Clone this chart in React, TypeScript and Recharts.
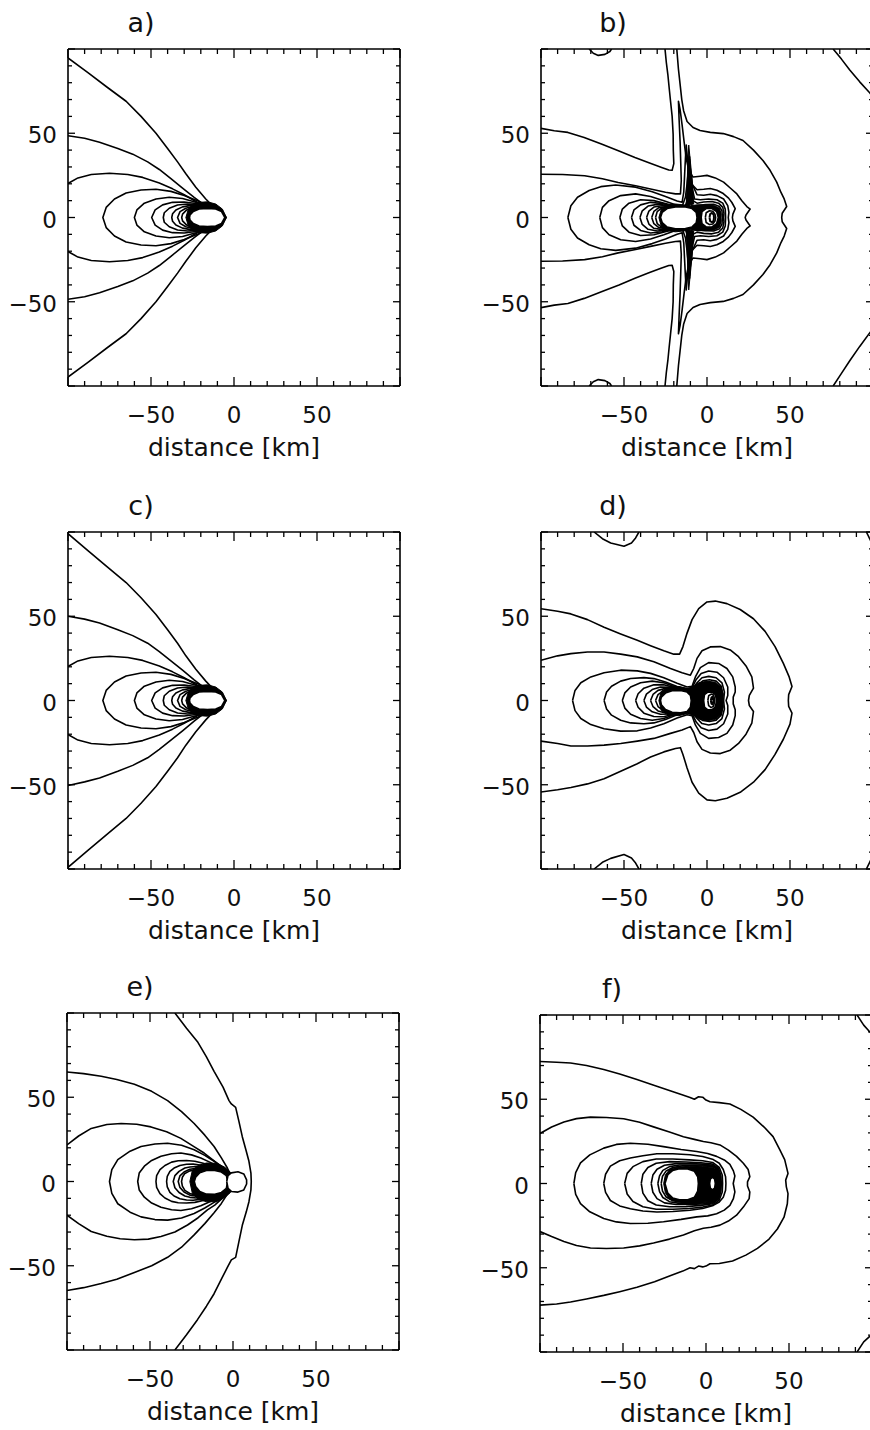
import React from 'react';
import { ScatterChart, Scatter, XAxis, YAxis } from 'recharts';

const FONT = "'DejaVu Sans', 'Liberation Sans', sans-serif";
const TICK_VALUES = [-100, -90, -80, -70, -60, -50, -40, -30, -20, -10, 0, 10, 20, 30, 40, 50, 60, 70, 80, 90, 100];
const LABELED_TICKS = [-50, 0, 50];
const DOMAIN: [number, number] = [-100, 100];
const X_LABEL = 'distance [km]';
const AXIS_ANCHOR = [-100, -100, 100, 100];

// ---------- panel a (and c) ----------
const A_1 = [-100,94.7, -88,86, -76,77, -65,69, -56,60, -47,50, -40,41, -34,33, -29,26, -23,18, -17,11, -12,6, -8,2.5, -5,0, -8,-2.5, -12,-6, -17,-11, -23,-18, -29,-26, -34,-33, -40,-41, -47,-50, -56,-60, -65,-69, -76,-77, -88,-86, -100,-94.7];
const A_2 = [-100,48.5, -90,47, -81,44.6, -70,41, -61,37.6, -52,33, -45,28.5, -38,23, -31,17.5, -24,12, -18,7.5, -12,4, -8,1.8, -5,0, -8,-1.8, -12,-4, -18,-7.5, -24,-12, -31,-17.5, -38,-23, -45,-28.5, -52,-33, -61,-37.6, -70,-41, -81,-44.6, -90,-47, -100,-48.5];
const A_3 = [-100,20.2, -94,23.5, -86,25.5, -75,26.3, -64,25.5, -55,23.8, -45,20.5, -37,17, -30,13.5, -23,9.5, -16,6, -10,3, -5,0, -10,-3, -16,-6, -23,-9.5, -30,-13.5, -37,-17, -45,-20.5, -55,-23.8, -64,-25.5, -75,-26.3, -86,-25.5, -94,-23.5, -100,-20.2];
const A_4 = [-5,0, -10,3.3, -16,7, -22,10, -30,13, -38,15.5, -47,16.8, -56,16.3, -65,14.5, -72,11, -77,6, -79,0, -77,-6, -72,-11, -65,-14.5, -56,-16.3, -47,-16.8, -38,-15.5, -30,-13, -22,-10, -16,-7, -10,-3.3, -5,0];
const A_5 = [-5,0, -10,3.5, -16,6.5, -23,9, -31,11.3, -39,12, -47,11, -54,8.5, -58.5,4.5, -60,0, -58.5,-4.5, -54,-8.5, -47,-11, -39,-12, -31,-11.3, -23,-9, -16,-6.5, -10,-3.5, -5,0];
const A_6 = [-5,0, -10,3.6, -16,6.3, -23,8.3, -30,9.2, -37,9, -43,7.5, -47.5,4.5, -49.6,0, -47.5,-4.5, -43,-7.5, -37,-9, -30,-9.2, -23,-8.3, -16,-6.3, -10,-3.6, -5,0];
const A_7 = [-5,0, -10,3.7, -16,6.2, -22,7.6, -28,8, -34,7.4, -39,5.5, -42,2.8, -42.6,0, -42,-2.8, -39,-5.5, -34,-7.4, -28,-8, -22,-7.6, -16,-6.2, -10,-3.7, -5,0];
const A_8 = [-5,0, -10,3.8, -15,6, -20,7, -26,7.2, -31,6.3, -35,4.5, -37,2.2, -37.5,0, -37,-2.2, -35,-4.5, -31,-6.3, -26,-7.2, -20,-7, -15,-6, -10,-3.8, -5,0];
const A_9 = [-5,0, -10,3.9, -15,5.9, -20,6.6, -25,6.5, -29,5.5, -32.5,3.5, -34,0, -32.5,-3.5, -29,-5.5, -25,-6.5, -20,-6.6, -15,-5.9, -10,-3.9, -5,0];
const A_10 = [-5,0, -10,4, -15,5.8, -20,6.3, -25,6, -28.5,4.5, -31,2, -31.5,0, -31,-2, -28.5,-4.5, -25,-6, -20,-6.3, -15,-5.8, -10,-4, -5,0];
const A_DARK = [-4.5,0, -7,5, -11,8, -16,9.3, -21,9, -25,7.5, -27.5,5, -29,0, -27.5,-5, -25,-7.5, -21,-9, -16,-9.3, -11,-8, -7,-5, -4.5,0];
const A_BLOB = [-5.5,0, -7.5,3.5, -11,5, -16,5.4, -21,5, -24.5,3.6, -26.5,1.5, -26.8,0, -26.5,-1.5, -24.5,-3.6, -21,-5, -16,-5.4, -11,-5, -7.5,-3.5, -5.5,0];
const C_1 = [-100,99, -88,89, -76,79, -65,70, -56,61, -47,51, -40,42, -34,34, -29,26.5, -23,18.5, -17,11.5, -12,6.3, -8,2.7, -5,0, -8,-2.7, -12,-6.3, -17,-11.5, -23,-18.5, -29,-26.5, -34,-34, -40,-42, -47,-51, -56,-61, -65,-70, -76,-79, -88,-89, -100,-99];
const C_2 = [-100,50, -90,48.3, -81,46, -70,42, -61,38.5, -52,34, -45,29, -38,23.5, -31,18, -24,12.3, -18,7.7, -12,4.1, -8,1.8, -5,0, -8,-1.8, -12,-4.1, -18,-7.7, -24,-12.3, -31,-18, -38,-23.5, -45,-29, -52,-34, -61,-38.5, -70,-42, -81,-46, -90,-48.3, -100,-50.5];

// ---------- panel b ----------
const B_TOP = [-71,100, -68.5,97.5, -65.5,96.2, -61.5,96.8, -58.5,98.5, -57.5,100];
const B_BOT = [-71,-100, -68.5,-97.5, -65.5,-96.2, -61.5,-96.8, -58.5,-98.5, -57.5,-100];
const B_TR = [76,100, 81,94, 86,87.5, 92,80.5, 98,74, 100,71.5];
const B_BR = [76,-100, 81,-92.5, 86,-85, 92,-76.5, 98,-68.5, 100,-66];
const B_1U = [-100,52.9, -92,51.5, -83.8,50.5, -74,47.5, -63.6,43.6, -53,39.5, -43.4,35.6, -35,32.5, -27.3,29.7, -23,28.2, -21,28, -20,32, -20.3,40, -20.4,49.5, -21,60, -22,69.3, -22.8,77, -23.6,85, -24.5,92, -25.3,100];
const B_1L = [-100,-53.5, -92,-52, -83.8,-51, -74,-48, -63.6,-44, -53,-40, -43.4,-36, -35,-32.8, -27.3,-30, -23,-28.5, -21,-28.3, -20,-32, -20.3,-40, -20.4,-50, -21,-60, -22,-69.5, -22.8,-77, -23.6,-85, -24.5,-92, -25.3,-100];
const B_2 = [-18.2,100, -17.2,88, -16.2,79, -15.2,70, -14.1,63.4, -12,57, -8.4,53.4, -4.2,51.6, 2,50.5, 9.8,49.8, 16,48, 21.7,45.7, 28,40, 33.7,33.8, 38,28, 42,21, 44.5,15, 46.5,11, 48,6.5, 45.3,2.5, 45,0, 45.3,-2.5, 48,-6.5, 46.5,-11, 44.5,-15, 42,-21, 38,-28, 33.7,-33.8, 28,-40, 21.7,-45.7, 16,-48, 9.8,-49.8, 2,-50.5, -4.2,-51.6, -8.4,-53.4, -12,-57, -14.1,-63.4, -15.2,-70, -16.2,-79, -17.2,-88, -18.2,-100];
const B_3 = [-100,25.7, -87,25.5, -73.7,24.8, -63,23, -53.5,20.8, -43,18.8, -33.3,16.8, -25,15, -19,14, -16,14, -15.5,22, -15.8,32, -16.2,45, -16.8,58, -17.2,69, -16.2,64, -15,55, -13.8,45, -12.5,35, -11,28, -8.4,24, -4,24.5, 0,25, 5,23.5, 10,21, 14,17.5, 18,14, 21,10, 24,6.5, 26,5, 23.5,1.5, 23,0, 23.5,-1.5, 26,-5, 24,-6.5, 21,-10, 18,-14, 14,-17.5, 10,-21, 5,-23.5, 0,-25, -4,-24.5, -8.4,-24, -11,-28, -12.5,-35, -13.8,-45, -15,-55, -16.2,-64, -17.2,-69, -16.8,-58, -16.2,-45, -15.8,-32, -15.5,-22, -16,-14, -19,-14.2, -25,-15.3, -33.3,-17, -43,-19, -53.5,-21, -63,-23.3, -73.7,-25, -87,-25.8, -100,-26];
const B_4 = [-83.8,0, -82,7, -78,12, -71,16, -64,18.3, -55,19.3, -43,18, -33,15.3, -25,12.5, -18,9.8, -15,9, -14,15, -13.5,25, -13,35, -12.5,43, -11.8,35, -11,27, -9.5,20, -6,16.5, -2,16.8, 2,17.2, 6,16.2, 9.8,14.2, 13,11.5, 15,8.9, 17,5.3, 15.6,2, 15.3,0, 15.6,-2, 17,-5.3, 15,-8.9, 13,-11.5, 9.8,-14.2, 6,-16.2, 2,-17.2, -2,-16.8, -6,-16.5, -9.5,-20, -11,-27, -11.8,-35, -12.5,-43, -13,-35, -13.5,-25, -14,-15, -15,-9, -18,-10, -25,-12.8, -33,-15.5, -43,-18.2, -55,-19.5, -64,-18.5, -71,-16.2, -78,-12.2, -82,-7, -83.8,0];
const B_5 = [-64.6,0, -63,6, -59,10, -52,13, -43,14, -34,12.5, -26,10, -19,7.5, -15,6.5, -13,12, -12,20, -11,30, -10.5,36, -10,28, -9,20, -6,13.5, -2,13.2, 2,13.8, 6,13, 10,11, 12.5,7, 13.2,3, 12.8,0, 13.2,-3, 12.5,-7, 10,-11, 6,-13, 2,-13.8, -2,-13.2, -6,-13.5, -9,-20, -10,-28, -10.5,-36, -11,-30, -12,-20, -13,-12, -15,-6.5, -19,-7.7, -26,-10.3, -34,-12.8, -43,-14.2, -52,-13.2, -59,-10.2, -63,-6, -64.6,0];
const B_6 = [-52.5,0, -51,5, -47,8.5, -40,10.5, -32,10, -24,8, -17,6, -13.5,5.5, -12,10, -10.5,18, -9.5,26, -9,18, -7.5,11, -4,10.5, 1,11, 6,10.5, 9.5,8.5, 11,5, 11.2,0, 11,-5, 9.5,-8.7, 6,-10.8, 1,-11.3, -4,-10.8, -7.5,-11.3, -9,-18, -9.5,-26, -10.5,-18, -12,-10, -13.5,-5.7, -17,-6.2, -24,-8.2, -32,-10.2, -40,-10.7, -47,-8.7, -51,-5, -52.5,0];
const B_7 = [-45.5,0, -44,4.5, -40,7.5, -34,9, -27,8.3, -20,6.5, -15,5.3, -12.5,5.5, -11,10, -9.5,16, -8.5,10, -6,8.5, -2,9.2, 3,9.5, 7,8.5, 9.5,6, 10.2,2.5, 10,0, 10.2,-2.5, 9.5,-6.2, 7,-8.7, 3,-9.7, -2,-9.4, -6,-8.7, -8.5,-10, -9.5,-16, -11,-10, -12.5,-5.7, -15,-5.5, -20,-6.7, -27,-8.5, -34,-9.2, -40,-7.7, -44,-4.6, -45.5,0];
const B_8 = [-40.4,0, -39,4, -35.5,6.8, -30,7.8, -24,7.2, -18,5.8, -13,5, -10,6, -6,7, -1,7.7, 4,7.8, 7.5,6.5, 9,4, 9.3,0, 9,-4, 7.5,-6.7, 4,-8, -1,-7.9, -6,-7.2, -10,-6.2, -13,-5.2, -18,-6, -24,-7.4, -30,-8, -35.5,-7, -39,-4.1, -40.4,0];
const B_9 = [-36.4,0, -35,3.8, -32,6.2, -27,7, -21,6.6, -15,5.5, -11,5.2, -6,6, -1,6.5, 3.5,6.5, 6.5,5.5, 8,3, 8.2,0, 8,-3, 6.5,-5.7, 3.5,-6.7, -1,-6.7, -6,-6.2, -11,-5.4, -15,-5.7, -21,-6.8, -27,-7.2, -32,-6.4, -35,-3.9, -36.4,0];
const B_10 = [-33.3,0, -32,3.6, -29,5.8, -24,6.5, -18,6.4, -12,5.8, -7,4.5, -5,0, -7,-4.6, -12,-6, -18,-6.6, -24,-6.7, -29,-6, -32,-3.7, -33.3,0];
const B_11 = [-31,0, -30,3.5, -27,5.8, -22,6.6, -16,6.5, -11,6, -7,5, -5.2,0, -7,-5.1, -11,-6.2, -16,-6.7, -22,-6.8, -27,-6, -30,-3.6, -31,0];
const B_DARK = [-29,0, -27.5,5, -24,7.3, -19,8, -14,7.5, -10,7, -6,7.5, -1,7.5, 4,7.2, 7.5,5.5, 8.5,2, 8.3,0, 8.5,-2, 7.5,-5.8, 4,-7.5, -1,-7.8, -6,-7.8, -10,-7.3, -14,-8, -19,-8.5, -24,-7.8, -27.5,-5.5, -29,0];
const B_SPK_U = [-12.5,7, -12.2,15, -11.8,25, -11.4,35, -11,43, -10.2,35, -9.2,25, -8.5,15, -8,8, -12.5,7];
const B_SPK_L = [-12.5,-7, -12.2,-15, -11.8,-25, -11.4,-35, -11,-43, -10.2,-35, -9.2,-25, -8.5,-15, -8,-8, -12.5,-7];
const B_BLOB = [-6,0, -6.5,3, -9,5.3, -13,6.2, -19,6.3, -24,5.3, -27,3, -28,0, -27,-3, -24,-5.7, -19,-6.7, -13,-6.6, -9,-5.6, -6.5,-3.2, -6,0];
const B_R1 = [-3.5,0, -3,3.5, -0.5,5.3, 3,5.3, 5.8,3.5, 6.8,0, 5.8,-3.7, 3,-5.6, -0.5,-5.6, -3,-3.7, -3.5,0];
const B_R2 = [-1,0, -0.5,2.8, 1.5,4, 3.5,3.7, 4.8,2, 5.2,0, 4.8,-2.1, 3.5,-3.9, 1.5,-4.2, -0.5,-3, -1,0];
const B_R3 = [1.5,0, 1.9,2, 3,2.7, 4,1.8, 4.2,0, 4,-1.9, 3,-2.8, 1.9,-2.1, 1.5,0];

// ---------- panel d ----------
const D_TL = [-68,100, -63,96, -58,93.5, -50,91.6, -45.5,93.5, -43,96.5, -41,100];
const D_BL = [-68,-100, -63,-96, -58,-93.7, -50,-91.4, -45.5,-93.5, -43,-96.5, -41,-100];
const D_TR = [96,100, 98,96, 100,92];
const D_BR = [96,-100, 98,-96, 100,-92];
const D_1 = [-100,54.5, -90,53, -82,51.4, -72,48, -62,43.5, -52,39.5, -42,35.7, -34,32.5, -26,29.5, -20,27.5, -16.5,27.5, -14.5,32, -12,40, -9,48, -5,54.5, 0,58.5, 5,59, 12,57.5, 20,54, 28,48.5, 35,41, 41,32, 46,22, 49.5,14, 51.2,8.3, 49.2,3.5, 49,0, 49.2,-3.5, 51.2,-7.5, 50,-14, 46,-23, 41,-32, 35,-41, 28,-48.5, 20,-54.5, 12,-58, 5,-59.5, 0,-59, -5,-55, -9,-48.5, -12,-40, -14.5,-32, -16,-28, -19,-28.5, -26,-30.5, -34,-33.5, -42,-37.5, -52,-42, -62,-46.5, -72,-49.5, -82,-51.6, -90,-53, -100,-54.3];
const D_2 = [-100,23.9, -90,26.5, -82,27.8, -72,28.8, -62,28.8, -52,27.5, -42,25.9, -32,23, -22,19, -15,16.5, -10,15, -8,19, -6,25, -3,29.5, 2,31.8, 8,32, 14,30, 19,26, 23.5,20.5, 27,14, 28,7.3, 25.5,3, 25,0, 25.5,-3, 28,-6.5, 27,-13.5, 23.5,-20, 19,-25.5, 14,-29.5, 8,-31.5, 2,-31.2, -3,-29, -6,-24.5, -8,-19, -10,-15.5, -15,-17.5, -22,-19.5, -32,-22.5, -42,-24.1, -52,-25.5, -62,-26.5, -72,-27, -82,-27, -90,-25.5, -100,-24.1];
const D_3 = [-81,0, -79.5,6, -76,10.5, -70,14, -62,16.5, -52,18, -42,17.6, -34,16.1, -26,13.5, -18,10.2, -12,8, -9,8.5, -7,14, -4,19.5, 1,22.5, 7,22, 12,19, 15.5,14, 17,8, 17,5, 15.8,2, 15.8,-2, 17,-5.5, 17,-9, 15.5,-14.5, 12,-19.5, 7,-22, 1,-22.5, -4,-19.5, -7,-14.5, -9,-9, -12,-8.5, -18,-10.4, -26,-13.8, -34,-16.3, -42,-18, -52,-18.2, -62,-16.8, -70,-14.3, -76,-10.7, -79.5,-6, -81,0];
const D_4 = [-62,0, -60.5,5, -57.5,8.5, -52,11.5, -46,13.1, -38,13.6, -32,13, -25,11, -18,8.3, -12,6.8, -9,7.5, -6.5,12.5, -3.5,16, 1,17.5, 6,16.8, 10,13.5, 12.5,8, 12.5,3, 11.5,0, 12.5,-3, 12.5,-8, 10,-13.8, 6,-17, 1,-17.8, -3.5,-16.2, -6.5,-12.8, -9,-7.8, -12,-7, -18,-8.5, -25,-11.3, -32,-13.3, -38,-13.8, -46,-13.3, -52,-11.7, -57.5,-8.7, -60.5,-5, -62,0];
const D_5 = [-51,0, -49.5,4.5, -46,8, -40,10.5, -33,11.5, -26,10.5, -19,8, -13,6.3, -9,6.5, -6,10.5, -3,13.5, 1,14.3, 5.5,13.5, 9,10.5, 10.5,5, 10,0, 10.5,-5, 9,-10.7, 5.5,-13.7, 1,-14.5, -3,-13.7, -6,-10.7, -9,-6.8, -13,-6.5, -19,-8.2, -26,-10.7, -33,-11.7, -40,-10.7, -46,-8.2, -49.5,-4.5, -51,0];
const D_6 = [-43,0, -41.5,4, -38,7.3, -32,9.3, -26,9.4, -20,7.8, -14,6.2, -9.5,6, -6,9, -2.5,11.7, 1.5,12.3, 5.5,11.5, 8.5,8.5, 9.5,4, 9,0, 9.5,-4, 8.5,-8.7, 5.5,-11.7, 1.5,-12.5, -2.5,-11.9, -6,-9.2, -9.5,-6.2, -14,-6.4, -20,-8, -26,-9.6, -32,-9.5, -38,-7.5, -41.5,-4, -43,0];
const D_7 = [-38,0, -36.5,3.8, -33,6.5, -28,8, -22,7.8, -16,6.3, -10,5.6, -6,8, -2.5,10.3, 1.5,10.8, 5,10, 7.5,7.5, 8.5,3.5, 8,0, 8.5,-3.5, 7.5,-7.7, 5,-10.2, 1.5,-11, -2.5,-10.5, -6,-8.2, -10,-5.8, -16,-6.5, -22,-8, -28,-8.2, -33,-6.7, -36.5,-3.9, -38,0];
const D_8 = [-34,0, -32.5,3.6, -29.5,6, -25,7.2, -19,6.8, -13,5.8, -9.5,5.4, -6,7.2, -3,9.2, 1,9.6, 4.5,8.8, 7,6.5, 7.5,3, 7,0, 7.5,-3, 7,-6.7, 4.5,-9, 1,-9.8, -3,-9.4, -6,-7.4, -9.5,-5.6, -13,-6, -19,-7, -25,-7.4, -29.5,-6.2, -32.5,-3.7, -34,0];
const D_9 = [-31,0, -29.5,3.5, -26.5,5.6, -22,6.6, -16,6.2, -11,5.4, -8,5.6, -5,7, -2,8.3, 1.5,8.6, 4.5,7.8, 6.5,5.5, 6.8,2.5, 6.5,0, 6.8,-2.5, 6.5,-5.7, 4.5,-8, 1.5,-8.8, -2,-8.5, -5,-7.2, -8,-5.8, -11,-5.6, -16,-6.4, -22,-6.8, -26.5,-5.8, -29.5,-3.6, -31,0];
const D_DARK = [-29,0, -27.5,5.5, -23,7.8, -17,8.3, -12,7.2, -8.5,8, -5,10.5, 0,11.5, 5,10.8, 8.5,8, 9.8,3.5, 9.5,0, 9.8,-3.5, 8.5,-8.5, 5,-11.3, 0,-12, -5,-11, -8.5,-8.5, -12,-7.8, -17,-9, -23,-8.8, -27.5,-6, -29,0];
const D_BLOB = [-9.5,0, -10,3, -12,5, -16,5.9, -21,5.8, -25,4.4, -27.5,2, -28,0, -27.5,-2.5, -25,-5.3, -21,-7, -16,-7.3, -12,-6.5, -10,-4, -9.5,0];
const D_R1 = [-2,0, -1.5,3.5, 0.5,5, 3,5, 5,3.5, 5.8,0, 5,-3.8, 3,-5.5, 0.5,-5.5, -1.5,-4, -2,0];
const D_R2 = [0.5,0, 1,2.8, 2.5,3.8, 4,3.2, 4.7,0, 4,-3.3, 2.5,-4.2, 1,-3, 0.5,0];
const D_R3 = [2.3,0, 2.7,1.8, 3.4,2.3, 3.9,0, 3.4,-2.4, 2.7,-1.9, 2.3,0];

// ---------- panel e ----------
const E_1 = [-35,100, -28,91, -21.4,83, -16,74, -11.4,65.4, -6,56, -2.4,48, -1,46, 1.6,44, 3.5,36, 5.6,26.6, 8,18, 9.6,12, 10.8,5, 11,0, 10.8,-5, 9.6,-12, 8,-18, 5.6,-26, 3.5,-36, 1.6,-45, -1,-46.5, -3.4,-51, -7,-58, -11.4,-66.6, -16,-74, -21.4,-82, -28,-91, -35,-100];
const E_2 = [-100,65, -90,64, -79.4,62.5, -70,60.5, -59.4,57.7, -49,53.5, -39.4,48, -31,41.5, -23.4,34.4, -17,27.5, -11.4,20.8, -7,14, -3.4,8, -2,5, -2.6,0, -2.2,-5.5, -3.4,-7.5, -7,-13, -11.4,-18.5, -17,-25, -23.4,-31.7, -31,-39, -39.4,-45, -49,-50, -59.4,-54, -70,-58, -79.4,-60.5, -90,-63, -100,-64.7];
const E_3 = [-100,21.7, -93,27, -85.4,31.5, -76,33.8, -67.4,34.4, -58,34, -49.4,32.4, -40,29.5, -31.4,25.6, -24,21, -17.4,16.9, -11,12, -7.4,9, -4,6, -2.4,4.8, -2.8,0, -2.4,-5.5, -4,-7, -7,-10.5, -11,-14, -15.4,-16.8, -21,-21.5, -27.4,-25.8, -35,-30, -43.4,-32.6, -51,-34.2, -59.4,-34.6, -68,-34, -76,-32.5, -85.4,-29.7, -93,-25, -100,-20];
const E_4 = [-2.4,5.2, -6,8.5, -11.4,12, -17,15.5, -23.4,18.8, -31,21.5, -39.4,22.7, -47,22.3, -55.4,20.8, -62,18, -69.4,13, -73,7, -74.4,0, -73,-7, -69.4,-13.2, -62,-18.2, -55.4,-21, -47,-22.6, -39.4,-22.9, -31,-21.7, -23.4,-19, -17,-15.7, -11.4,-12.4, -6,-9, -2.4,-6, -2.8,0, -2.4,5.2];
const E_5 = [-2.4,5, -5,6.8, -9.4,9.1, -14,11.5, -19.4,14, -25,15.8, -31.4,16.9, -37,16.5, -43.4,15, -49,12.5, -53.4,9.1, -56.5,5, -57.4,0, -56.5,-5, -53.4,-9.3, -49,-12.8, -43.4,-15.3, -37,-16.8, -31.4,-17.2, -25,-16.2, -19.4,-14.4, -14,-12, -9.4,-9.6, -5,-7.5, -2.4,-6, -2.8,0, -2.4,5];
const E_6 = [-2.4,5, -8,7, -13,9.5, -18,10.8, -23,12, -28,12.5, -33,12.3, -37,11.5, -41,9.5, -44,7, -46,3.5, -46.4,0, -46,-3.5, -44,-7.2, -41,-9.8, -37,-11.8, -33,-12.6, -28,-12.8, -23,-12.4, -18,-11.3, -13,-10, -8,-7.8, -2.4,-6];
const E_7 = [-2.4,5, -8,6.8, -15,8.5, -20,9.8, -24,10.3, -28,10.2, -32,9.5, -35.5,8, -38,6, -39.6,3, -40,0, -39.6,-3.2, -38,-6.4, -35.5,-8.6, -32,-10.2, -28,-11, -24,-11.1, -20,-10.6, -15,-9.5, -8,-7.6, -2.4,-6];
const E_8 = [-2.4,5, -8,6.6, -14,7.8, -18,8.5, -22,8.9, -26,8.6, -29,8, -32.5,6, -35,3.5, -36,0, -35,-3.7, -32.5,-6.5, -29,-8.6, -26,-9.4, -22,-9.8, -18,-9.4, -14,-8.8, -8,-7.5, -2.4,-6];
const E_9 = [-2.4,5, -8,6.4, -13,7.3, -18,7.8, -22,7.9, -26,7.3, -29.5,5.6, -32,3.3, -33,0, -32,-3.5, -29.5,-6.2, -26,-8.1, -22,-8.8, -18,-8.8, -13,-8.4, -8,-7.4, -2.4,-6];
const E_10 = [-2.4,5, -8,6.3, -13,7, -18,7.3, -22,7.2, -26,6.3, -29,4.8, -30.5,2.5, -31,0, -30.5,-2.7, -29,-5.3, -26,-7.1, -22,-8.2, -18,-8.4, -13,-8.1, -8,-7.3, -2.4,-6];
const E_DARK = [-1.5,5.5, -5,8.5, -10,10.8, -16,11, -21,9.5, -24.5,6.5, -26,0, -24.5,-7, -21,-10.5, -16,-12, -10,-12, -5,-9.5, -1.5,-6.5, -2.5,0, -1.5,5.5];
const E_BLOB = [-3.2,0, -4,3.5, -7,5.6, -11,6.5, -16,6.5, -20,5.2, -22.5,2.5, -23.3,0, -22.5,-3, -20,-6, -16,-7.5, -11,-7.6, -7,-6.5, -4,-4, -3.2,0];
const E_CIRC = [-3.8,0, -3,3.5, -1,5.1, 3,5.8, 6.5,4.5, 8.2,1, 8.2,-1.5, 6.5,-5, 3,-6.3, -1,-5.9, -3,-4, -3.8,0];

// ---------- panel f ----------
const F_TR = [91,100, 95,94, 100,88.5];
const F_BR = [91,-100, 95,-94, 100,-89.5];
const F_1 = [-100,72.4, -90,72, -81.6,71.5, -72,70, -61.6,67.6, -52,65, -41.6,61.7, -31,58.2, -21.6,55, -14,52.5, -9.6,51.1, -7,50, -4.5,51.5, -2,51.2, 0,49.5, 2.4,48.5, 8,48, 14.4,47.2, 21,44, 28.4,39.4, 35,33.5, 40.4,27.8, 44.5,20, 47.4,14.2, 49.4,6, 48,2, 48.4,-2, 49.4,-6, 49,-12, 47,-20, 43,-27, 38,-33, 31,-38.5, 24,-42.5, 16,-46, 8,-47.5, 2.4,-47.6, 0,-49, -2,-49.5, -4.5,-49, -7,-50.5, -9.6,-50, -14,-52, -21.6,-54.8, -31,-58.3, -41.6,-61.6, -52,-64.2, -61.6,-66.4, -72,-68.5, -81.6,-70.3, -90,-71.5, -100,-72.2];
const F_2 = [-100,29.7, -93,33.5, -85.6,36.5, -78,38.5, -69.6,39.4, -60,39.2, -49.6,38.4, -40,36.3, -31.6,33.6, -22,30.5, -13.6,27.8, -7,26.2, -1.6,24.9, 3,24.2, 8.4,22.9, 13.5,19.8, 18.4,16.1, 22.5,12, 25.4,8.3, 26.4,4, 25,1, 25,-1.5, 26.4,-5, 26,-9, 22.5,-14, 18.4,-18.8, 13.5,-22.3, 8.4,-24.7, 3,-26, -1.6,-26.6, -7,-28, -13.6,-30.5, -22,-33, -31.6,-35.3, -40,-37, -49.6,-38.3, -60,-38.6, -69.6,-38.3, -78,-36.8, -85.6,-34.4, -93,-31.5, -100,-28.5];
const F_3 = [-79.6,0, -78.5,6.5, -75.6,12.2, -70,17, -61.6,21, -54,23.2, -45.6,23.9, -35,23.3, -25.6,21.9, -15,20.2, -5.6,19, 1,17.8, 6.4,16.1, 11,14, 14.4,11.3, 16.5,7.5, 17.4,4.5, 16.4,0, 17.4,-5, 16.5,-9, 14.4,-13, 11,-15.8, 6.4,-17.9, 1,-19.2, -5.6,-19.8, -15,-21.3, -25.6,-22.7, -35,-23.6, -45.6,-23.7, -54,-22.8, -61.6,-20.8, -70,-16.8, -75.6,-12, -78.5,-6.5, -79.6,0];
const F_4 = [-61.6,0, -60.5,5.5, -57.6,10.3, -52,13.5, -45.6,15.1, -38,16.5, -29.6,17.7, -20,17.7, -9.6,17.1, -2,16, 4.4,14.2, 8,12, 10.4,8.3, 11.8,4, 12,0, 11.8,-4, 10.4,-8.2, 8,-11, 4.4,-13, -2,-14.8, -9.6,-15.9, -20,-16.6, -29.6,-16.9, -38,-16.3, -45.6,-15, -52,-13.3, -57.6,-10.1, -60.5,-5.3, -61.6,0];
const F_5 = [-49,0, -47.5,6, -44,10, -38,13, -30,14.5, -20,14.5, -10,14, -2,13.5, 4,12.5, 8,9.5, 9.8,5, 10,0, 9.8,-5, 8,-9.8, 4,-12.8, -2,-14, -10,-14.8, -20,-15.3, -30,-15.3, -38,-13.8, -44,-10.7, -47.5,-6.2, -49,0];
const F_6 = [-39,0, -38,5.5, -35,9.5, -30,12, -22,13, -12,12.8, -3,12.3, 4,11.5, 7.5,9, 9,4.5, 9.2,0, 9,-4.5, 7.5,-9.3, 4,-12, -3,-13, -12,-13.7, -22,-13.8, -30,-12.8, -35,-10.2, -38,-5.7, -39,0];
const F_7 = [-33,0, -32,5, -29.5,8.5, -25,10.8, -18,11.8, -10,11.8, -2,11.5, 4,10.8, 7.5,8.3, 8.6,4, 8.7,0, 8.6,-4, 7.5,-8.8, 4,-11.5, -2,-12.2, -10,-12.5, -18,-12.5, -25,-11.5, -29.5,-9, -32,-5.2, -33,0];
const F_8 = [-29,0, -28,4.5, -26,7.8, -22,10, -16,11, -8,11, 0,10.8, 5,10.2, 7.8,7.5, 8.5,3.5, 8.5,0, 8.5,-3.5, 7.8,-8, 5,-10.8, 0,-11.5, -8,-11.8, -16,-11.8, -22,-10.8, -26,-8.3, -28,-4.8, -29,0];
const F_9 = [-27,0, -26.2,4.3, -24,7.5, -20,9.5, -14,10.5, -6,10.5, 1,10.2, 5.5,9.7, 8,7, 8.4,3, 8.4,0, 8.4,-3, 8,-7.5, 5.5,-10.3, 1,-10.9, -6,-11.2, -14,-11.2, -20,-10.2, -24,-8, -26.2,-4.5, -27,0];
const F_DARK = [-25.5,0, -24.5,5, -22,8.3, -17,9.8, -10,10.2, -2,10, 4,9.7, 7.5,8, 8.7,4, 8.8,0, 8.7,-4, 7.5,-8.5, 4,-10.5, -2,-11, -10,-11.2, -17,-11, -22,-9.3, -24.5,-5.5, -25.5,0];
const F_BLOB = [-4.6,0, -5,4, -7,7.2, -11,8.6, -16,8.8, -20,7.8, -23,5.2, -24.7,0, -23,-5.7, -20,-8.6, -16,-9.6, -11,-9.6, -7,-8.2, -5,-4.5, -4.6,0];
const F_SPOT = [2.2,0, 2.6,2.6, 3.9,3.7, 5.2,2.6, 5.6,0, 5.2,-2.7, 3.9,-3.8, 2.6,-2.7, 2.2,0];

type Series = { d: number[]; w?: number; fill?: string };

const SERIES_A: Series[] = [
  { d: A_DARK, w: 1, fill: '#000' },
  { d: A_1 }, { d: A_2 }, { d: A_3 }, { d: A_4 }, { d: A_5 }, { d: A_6 }, { d: A_7 }, { d: A_8 }, { d: A_9 }, { d: A_10 },
  { d: A_BLOB, fill: '#fff' },
];
const SERIES_C: Series[] = [
  { d: A_DARK, w: 1, fill: '#000' },
  { d: C_1 }, { d: C_2 }, { d: A_3 }, { d: A_4 }, { d: A_5 }, { d: A_6 }, { d: A_7 }, { d: A_8 }, { d: A_9 }, { d: A_10 },
  { d: A_BLOB, fill: '#fff' },
];
const SERIES_B: Series[] = [
  { d: B_DARK, w: 1, fill: '#000' }, { d: B_SPK_U, w: 1, fill: '#000' }, { d: B_SPK_L, w: 1, fill: '#000' },
  { d: B_TOP }, { d: B_BOT }, { d: B_TR }, { d: B_BR }, { d: B_1U }, { d: B_1L }, { d: B_2 }, { d: B_3 },
  { d: B_4 }, { d: B_5 }, { d: B_6 }, { d: B_7 }, { d: B_8 }, { d: B_9 }, { d: B_10 }, { d: B_11 },
  { d: B_BLOB, fill: '#fff' }, { d: B_R1, fill: '#fff' }, { d: B_R2 }, { d: B_R3, w: 2 },
];
const SERIES_D: Series[] = [
  { d: D_DARK, w: 1, fill: '#000' },
  { d: D_TL }, { d: D_BL }, { d: D_TR }, { d: D_BR },
  { d: D_1 }, { d: D_2 }, { d: D_3 }, { d: D_4 }, { d: D_5 }, { d: D_6 }, { d: D_7 }, { d: D_8 }, { d: D_9 },
  { d: D_BLOB, fill: '#fff' }, { d: D_R1, fill: '#fff' }, { d: D_R2 }, { d: D_R3, w: 2 },
];
const SERIES_E: Series[] = [
  { d: E_DARK, w: 1, fill: '#000' },
  { d: E_1 }, { d: E_2 }, { d: E_3 }, { d: E_4 }, { d: E_5 }, { d: E_6 }, { d: E_7 }, { d: E_8 }, { d: E_9 }, { d: E_10 },
  { d: E_BLOB, fill: '#fff' }, { d: E_CIRC, fill: '#fff' },
];
const SERIES_F: Series[] = [
  { d: F_DARK, w: 1, fill: '#000' },
  { d: F_TR }, { d: F_BR },
  { d: F_1 }, { d: F_2 }, { d: F_3 }, { d: F_4 }, { d: F_5 }, { d: F_6 }, { d: F_7 }, { d: F_8 }, { d: F_9 },
  { d: F_BLOB, fill: '#fff' }, { d: F_SPOT, fill: '#fff' },
];

const toPts = (flat: number[]) => {
  const out: { x: number; y: number }[] = [];
  for (let i = 0; i < flat.length; i += 2) out.push({ x: flat[i], y: flat[i + 1] });
  return out;
};

const fmt = (v: number) => (v < 0 ? `\u2212${-v}` : `${v}`);
const isMajor = (v: number) => v % 50 === 0;
const TXT = '#111';

function BottomTick(p: any) {
  const { x, y, payload } = p;
  const v = payload.value;
  const len = isMajor(v) ? 9 : 5;
  return (
    <g>
      <line x1={x} x2={x} y1={y} y2={y - len} stroke="#000" strokeWidth={1.3} />
      {LABELED_TICKS.includes(v) && (
        <text x={x} y={y + 37} textAnchor="middle" fontFamily={FONT} fontSize={23} fill={TXT}>{fmt(v)}</text>
      )}
    </g>
  );
}
function TopTick(p: any) {
  const { x, y, payload } = p;
  const len = isMajor(payload.value) ? 9 : 5;
  return <line x1={x} x2={x} y1={y} y2={y + len} stroke="#000" strokeWidth={1.3} />;
}
function LeftTick(p: any) {
  const { x, y, payload } = p;
  const v = payload.value;
  const len = isMajor(v) ? 7 : 4;
  return (
    <g>
      <line x1={x} x2={x + len} y1={y} y2={y} stroke="#000" strokeWidth={1.3} />
      {LABELED_TICKS.includes(v) && (
        <text x={x - 11} y={y + 10} textAnchor="end" fontFamily={FONT} fontSize={23} fill={TXT}>{fmt(v)}</text>
      )}
    </g>
  );
}
function RightTick(p: any) {
  const { x, y, payload } = p;
  const len = isMajor(payload.value) ? 7 : 4;
  return <line x1={x} x2={x - len} y1={y} y2={y} stroke="#000" strokeWidth={1.3} />;
}

const Empty = () => <g />;
const AXIS_LINE = { stroke: '#000', strokeWidth: 1.6 };

type PanelDef = { title: string; boxLeft: number; boxTop: number; titleX: number; series: Series[] };

const PANELS: PanelDef[] = [
  { title: 'a)', boxLeft: 68, boxTop: 49, titleX: 141, series: SERIES_A },
  { title: 'b)', boxLeft: 541, boxTop: 49, titleX: 613, series: SERIES_B },
  { title: 'c)', boxLeft: 68, boxTop: 532, titleX: 141, series: SERIES_C },
  { title: 'd)', boxLeft: 541, boxTop: 532, titleX: 613, series: SERIES_D },
  { title: 'e)', boxLeft: 67, boxTop: 1013, titleX: 140, series: SERIES_E },
  { title: 'f)', boxLeft: 540, boxTop: 1015, titleX: 612, series: SERIES_F },
];

function Panel({ def }: { def: PanelDef }) {
  return (
    <>
      <div
        style={{
          position: 'absolute', left: def.titleX - 40, top: def.boxTop - 46, width: 80, height: 40,
          lineHeight: '40px', textAlign: 'center', fontFamily: FONT, fontSize: 27, color: TXT,
        }}
      >
        {def.title}
      </div>
      <div style={{ position: 'absolute', left: def.boxLeft - 70, top: def.boxTop - 10 }}>
        <ScatterChart width={412} height={427} margin={{ top: 5, right: 5, bottom: 0, left: 10 }}>
          <XAxis
            xAxisId="b" type="number" dataKey="x" domain={DOMAIN} allowDataOverflow ticks={TICK_VALUES}
            interval={0} tickSize={0} tickMargin={0} tickLine={false} axisLine={AXIS_LINE} height={80}
            tick={(p: any) => <BottomTick {...p} />}
            label={{ value: X_LABEL, position: 'insideBottom', offset: 10, fontSize: 25, fontFamily: FONT, fill: TXT }}
          />
          <XAxis
            xAxisId="t" orientation="top" type="number" dataKey="x" domain={DOMAIN} allowDataOverflow ticks={TICK_VALUES}
            interval={0} tickSize={0} tickMargin={0} tickLine={false} axisLine={AXIS_LINE} height={5}
            tick={(p: any) => <TopTick {...p} />}
          />
          <YAxis
            yAxisId="l" type="number" dataKey="y" domain={DOMAIN} allowDataOverflow ticks={TICK_VALUES}
            interval={0} tickSize={0} tickMargin={0} tickLine={false} axisLine={AXIS_LINE} width={60}
            tick={(p: any) => <LeftTick {...p} />}
          />
          <YAxis
            yAxisId="r" orientation="right" type="number" dataKey="y" domain={DOMAIN} allowDataOverflow ticks={TICK_VALUES}
            interval={0} tickSize={0} tickMargin={0} tickLine={false} axisLine={AXIS_LINE} width={5}
            tick={(p: any) => <RightTick {...p} />}
          />
          {def.series.map((s, i) => (
            <Scatter
              key={i}
              xAxisId="b"
              yAxisId="l"
              data={toPts(s.d)}
              isAnimationActive={false}
              lineType="joint"
              line={{ stroke: '#000', strokeWidth: s.w ?? 1.6, fill: s.fill ?? 'none', strokeLinejoin: 'round' }}
              shape={Empty}
              legendType="none"
            />
          ))}
          <Scatter xAxisId="t" yAxisId="r" data={toPts(AXIS_ANCHOR)} isAnimationActive={false} shape={Empty} legendType="none" />
        </ScatterChart>
      </div>
    </>
  );
}

export default function App() {
  return (
    <div style={{ position: 'absolute', left: 0, top: 0, width: 870, height: 1430, overflow: 'hidden', background: '#fff' }}>
      {PANELS.map((p) => (
        <Panel key={p.title} def={p} />
      ))}
    </div>
  );
}
